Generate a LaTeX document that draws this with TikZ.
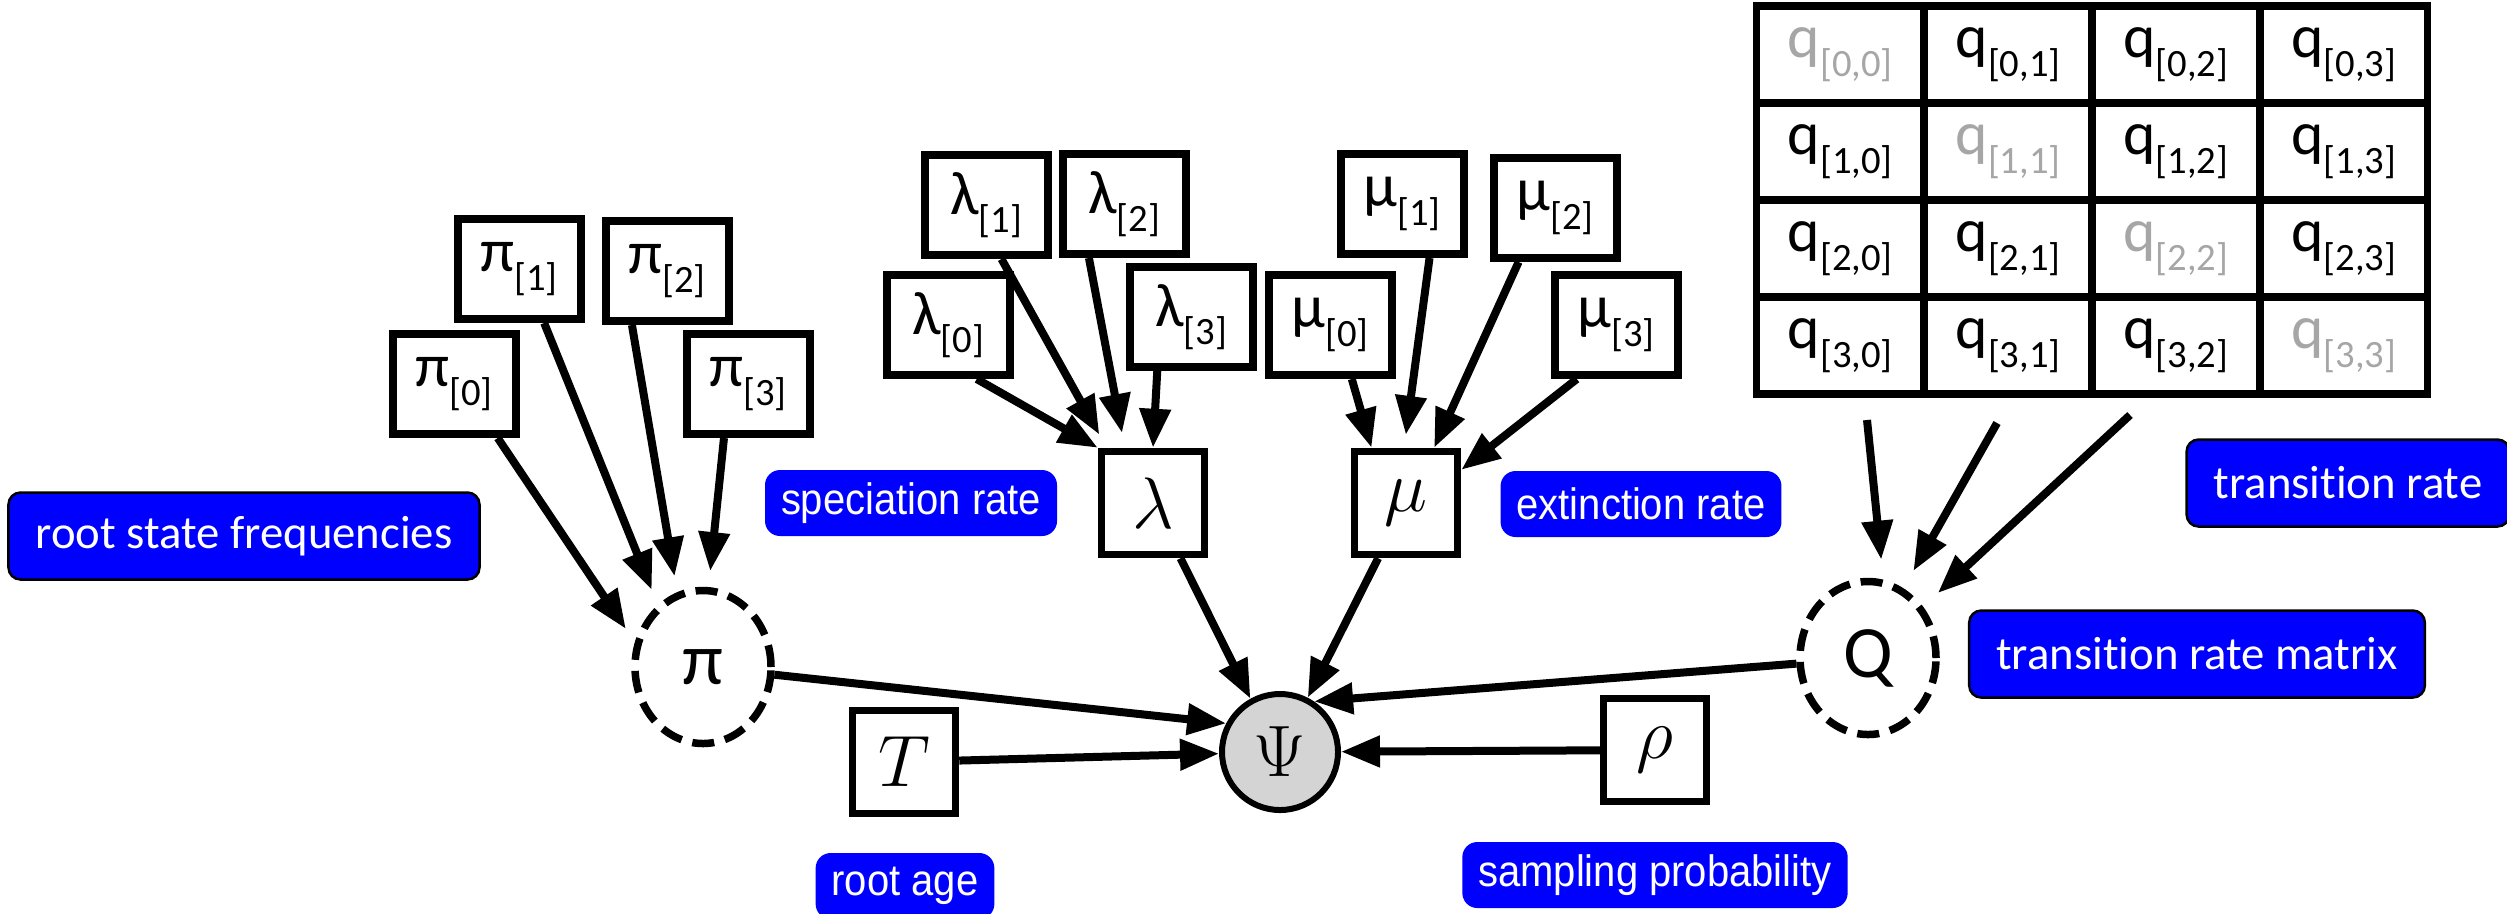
\documentclass[tikz,border=0pt]{standalone}
\usepackage{fontspec}
\setmainfont[Ligatures=NoCommon]{Carlito}
\newfontfamily\helv[FakeStretch=0.91]{Liberation Sans}
\usetikzlibrary{matrix, arrows.meta, shapes.geometric}
\newcommand\ix[1]{\raisebox{-.3em}{\fontsize{11}{11}\selectfont #1}}
\tikzset{
  parbox/.style = {draw, line width=.8mm, minimum width=12.3mm, minimum height=10mm, inner sep=0pt, font=\fontsize{17.5}{20}\selectfont},
  constbox/.style = {draw, line width=.75mm, minimum size=10.3mm, inner sep=0pt, font=\fontsize{21}{24}\selectfont},
  detnode/.style = {draw, ellipse, dash pattern=on 2.2mm off 1.1mm, line width=.75mm, minimum width=13.6mm, minimum height=15.3mm, inner sep=0pt, font=\fontsize{21}{24}\selectfont},
  obsnode/.style = {draw, circle, fill=black!17, line width=.6mm, minimum size=11.6mm, inner sep=0pt, font=\fontsize{21}{24}\selectfont},
  qcell/.style = {draw, line width=.75mm, minimum width=16.78mm, minimum height=9.7mm, inner sep=0pt, outer sep=0pt, anchor=center, font=\fontsize{17.5}{20}\selectfont},
  bluetag/.style = {draw=black, fill=blue, text=white, line width=.25mm, rounded corners=1.2mm, minimum height=8.7mm, inner xsep=2.7mm, font=\fontsize{13.3}{16}\selectfont},
  bluenote/.style = {fill=blue, text=white, rounded corners=1.5mm, minimum height=6.6mm, inner xsep=1.6mm, font=\helv\fontsize{12.5}{15}\selectfont},
  arr/.style = {-{Triangle[length=3.9mm,width=3mm]}, line width=.8mm},
}

\begin{document}
\begin{tikzpicture}[x=.1mm, y=-.1mm]
\useasboundingbox (0,0) rectangle (2507,913);

% root frequencies
\node[parbox] (p0) at (454,384) {π\ix{[0]}};
\node[parbox] (p1) at (519,269) {π\ix{[1]}};
\node[parbox] (p2) at (667,271) {π\ix{[2]}};
\node[parbox] (p3) at (748,384) {π\ix{[3]}};
\node[detnode] (pi) at (703,667) {π};

% speciation
\node[parbox] (l0) at (948,325) {λ\ix{[0]}};
\node[parbox] (l1) at (986,205) {λ\ix{[1]}};
\node[parbox] (l2) at (1124,204) {λ\ix{[2]}};
\node[parbox] (l3) at (1191,317) {λ\ix{[3]}};
\node[constbox] (lam) at (1153,503) {$\lambda$};

% extinction
\node[parbox] (m0) at (1330,325) {μ\ix{[0]}};
\node[parbox] (m1) at (1402,204) {μ\ix{[1]}};
\node[parbox] (m2) at (1555,208) {μ\ix{[2]}};
\node[parbox] (m3) at (1616,325) {μ\ix{[3]}};
\node[constbox] (mu) at (1406,503) {$\mu$};

\node[obsnode] (psi) at (1280,752) {$\Psi$};
\node[constbox] (T) at (904,762) {$T$};
\node[constbox] (rho) at (1655,750) {$\rho$};

% rate matrix
\matrix (qm) at (2092,200) [matrix of nodes, nodes={qcell}, column sep=-.75mm, row sep=-.75mm]{
|[text=black!35]| q\ix{[0,0]} & q\ix{[0,1]} & q\ix{[0,2]} & q\ix{[0,3]} \\
q\ix{[1,0]} & |[text=black!35]| q\ix{[1,1]} & q\ix{[1,2]} & q\ix{[1,3]} \\
q\ix{[2,0]} & q\ix{[2,1]} & |[text=black!35]| q\ix{[2,2]} & q\ix{[2,3]} \\
q\ix{[3,0]} & q\ix{[3,1]} & q\ix{[3,2]} & |[text=black!35]| q\ix{[3,3]} \\
};
\node[detnode] (Q) at (1868,658) {Q};
\coordinate (c0) at (1867,420);
\coordinate (c1) at (1997,423);
\coordinate (c2) at (2130,415);

% labels
\node[bluetag] (lrsf) at (244,536) {root state frequencies};
\node[bluetag] (ltr) at (2348,483) {transition rate};
\node[bluetag] (ltrm) at (2197,654) {transition rate matrix};
\node[bluenote] (lsp) at (911,503) {speciation rate};
\node[bluenote] (lex) at (1641,504) {extinction rate};
\node[bluenote] (lra) at (905,886) {root age};
\node[bluenote] (lsa) at (1655,875) {sampling probability};

\draw [arr, shorten >=1.6mm] (p0.-51) -- (pi.160);
\draw [arr, shorten >=1.6mm] (p1.-65) -- (pi.126);
\draw [arr, shorten >=1.6mm] (p2.-123) -- (pi.109);
\draw [arr, shorten >=1.6mm] (p3.-114) -- (pi.86);
\draw [arr] (l0.-62) -- (lam.north west);
\draw [arr, shorten >=1.5mm] (l1.-74) -- (lam.130);
\draw [arr, shorten >=1.5mm] (l2.-123) -- (lam.117);
\draw [arr] (l3.-122) -- (lam.north);
\draw [arr] (m0.-68) -- (mu.122);
\draw [arr, shorten >=1.3mm] (m1.-63) -- (mu.92);
\draw [arr] (m2.-124) -- (mu.63);
\draw [arr] (m3.-126) -- (mu.31);
\draw [arr, shorten >=2mm] (c0) -- (Q.79);
\draw [arr, shorten >=2mm] (c1) -- (Q.63);
\draw [arr, shorten >=2mm] (c2) -- (Q.43);
\draw [arr] (lam) -- (psi.119);
\draw [arr] (mu) -- (psi.63);
\draw [arr] (pi) -- (psi.152);
\draw [arr] (Q) -- (psi.56);
\draw [arr] (T) -- (psi);
\draw [arr] (rho) -- (psi);
\end{tikzpicture}
\end{document}
